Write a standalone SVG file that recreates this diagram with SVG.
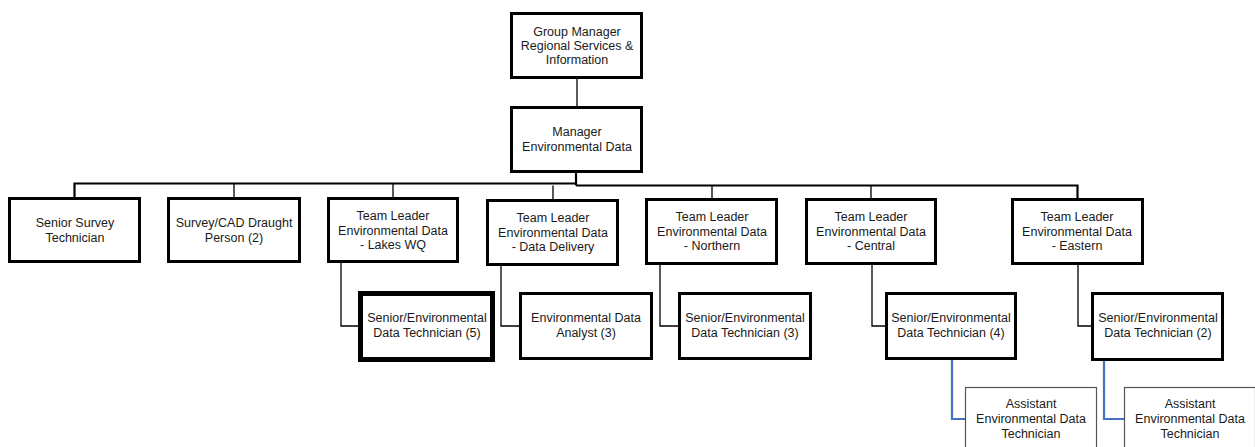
<svg xmlns="http://www.w3.org/2000/svg" width="1255" height="447" viewBox="0 0 1255 447">
<style>
.box{fill:#fff;stroke:#000;stroke-width:3}
.thick{fill:#fff;stroke:#000;stroke-width:5}
.thin{fill:#fff;stroke:#555;stroke-width:1.2}
.con{fill:none;stroke:#000;stroke-width:1.3}
.bus{fill:none;stroke:#000;stroke-width:2.2}
.blue{fill:none;stroke:#4472C4;stroke-width:2.2}
text{font-family:"Liberation Sans",Arial,sans-serif;font-size:12.5px;fill:#1a1a1a;text-anchor:middle}
</style>
<rect width="1255" height="447" fill="#fff"/>
<g id="connectors">
<path class="con" d="M577 79V106"/>
<path class="bus" d="M576 173V185.5"/>
<path class="bus" d="M74.5 197V183.5H577"/>
<path class="bus" d="M576 185.5H1077.5V198"/>
<path class="con" d="M234 183.5V197M393 183.5V197M553 185.5V199M712 185.5V198M871 185.5V198"/>
<path class="con" d="M341 263V326H358"/>
<path class="con" d="M501 266V326H519"/>
<path class="con" d="M660 265V326H678"/>
<path class="con" d="M872 265V326H885"/>
<path class="con" d="M1078 265V326H1091"/>
<path class="blue" d="M952 360V419H965"/>
<path class="blue" d="M1104 361V419H1124"/>
</g>
<g id="n-group"><rect class="box" x="511.5" y="13.5" width="130" height="64"/>
<text x="577" y="36">Group Manager</text><text x="577" y="50">Regional Services &amp;</text><text x="577" y="64">Information</text></g>
<g id="n-manager"><rect class="box" x="511.5" y="107.5" width="130" height="64"/>
<text x="577" y="136">Manager</text><text x="577" y="150.5">Environmental Data</text></g>
<g id="n-survey"><rect class="box" x="9.5" y="198.5" width="130" height="63"/>
<text x="75" y="227">Senior Survey</text><text x="75" y="241.5">Technician</text></g>
<g id="n-cad"><rect class="box" x="168.5" y="198.5" width="131" height="63"/>
<text x="234" y="227">Survey/CAD Draught</text><text x="234" y="241.5">Person (2)</text></g>
<g id="n-lakes"><rect class="box" x="328.5" y="198.5" width="129" height="63"/>
<text x="393" y="220">Team Leader</text><text x="393" y="234.5">Environmental Data</text><text x="393" y="249">- Lakes WQ</text></g>
<g id="n-delivery"><rect class="box" x="487.5" y="200.5" width="130" height="64"/>
<text x="553" y="222">Team Leader</text><text x="553" y="236.5">Environmental Data</text><text x="553" y="251">- Data Delivery</text></g>
<g id="n-northern"><rect class="box" x="646.5" y="199.5" width="130" height="64"/>
<text x="712" y="221">Team Leader</text><text x="712" y="235.5">Environmental Data</text><text x="712" y="250">- Northern</text></g>
<g id="n-central"><rect class="box" x="806.5" y="199.5" width="129" height="64"/>
<text x="871" y="221">Team Leader</text><text x="871" y="235.5">Environmental Data</text><text x="871" y="250">- Central</text></g>
<g id="n-eastern"><rect class="box" x="1012.5" y="199.5" width="130" height="64"/>
<text x="1077" y="221">Team Leader</text><text x="1077" y="235.5">Environmental Data</text><text x="1077" y="250">- Eastern</text></g>
<g id="n-lakes-tech"><rect class="thick" x="360.5" y="293.5" width="132" height="66"/>
<text x="427" y="322">Senior/Environmental</text><text x="427" y="337">Data Technician (5)</text></g>
<g id="n-analyst"><rect class="box" x="520.5" y="293.5" width="131" height="65"/>
<text x="586" y="322">Environmental Data</text><text x="586" y="337">Analyst (3)</text></g>
<g id="n-northern-tech"><rect class="box" x="679.5" y="293.5" width="131" height="65"/>
<text x="745" y="322">Senior/Environmental</text><text x="745" y="337">Data Technician (3)</text></g>
<g id="n-central-tech"><rect class="box" x="886.5" y="293.5" width="129" height="65"/>
<text x="951" y="322">Senior/Environmental</text><text x="951" y="337">Data Technician (4)</text></g>
<g id="n-eastern-tech"><rect class="box" x="1092.5" y="293.5" width="130" height="66"/>
<text x="1158" y="322">Senior/Environmental</text><text x="1158" y="337">Data Technician (2)</text></g>
<g id="n-central-asst"><rect class="thin" x="965.5" y="387.5" width="131" height="70"/>
<text x="1031" y="408">Assistant</text><text x="1031" y="423">Environmental Data</text><text x="1031" y="437.5">Technician</text></g>
<g id="n-eastern-asst"><rect class="thin" x="1124.5" y="387.5" width="131" height="70"/>
<text x="1190" y="408">Assistant</text><text x="1190" y="423">Environmental Data</text><text x="1190" y="437.5">Technician</text></g>
</svg>
